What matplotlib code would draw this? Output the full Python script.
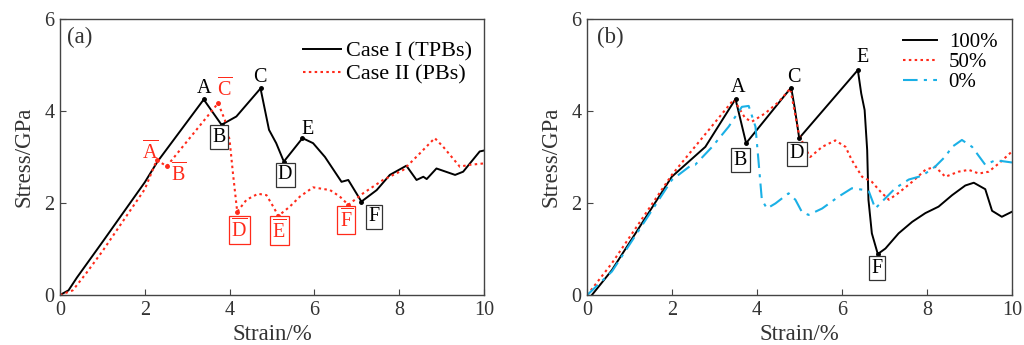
import matplotlib
matplotlib.use("Agg")
import matplotlib.pyplot as plt

plt.rcParams['font.family'] = ['Liberation Serif', 'DejaVu Serif']
plt.rcParams['mathtext.fontset'] = 'custom'
plt.rcParams['mathtext.rm'] = 'Liberation Serif'
plt.rcParams['mathtext.it'] = 'Liberation Serif'

# ---- Panel (a) data ----
case1_x = [0, 0.2, 0.4, 1.0, 2.0, 2.3, 3.39, 3.81, 4.16, 4.73, 4.93, 5.1, 5.28, 5.72, 5.97, 6.25, 6.64, 6.80,
           7.11, 7.47, 7.78, 8.17, 8.41, 8.57, 8.65, 8.88, 9.32, 9.51, 9.9, 10.0]
case1_y = [0, 0.1, 0.38, 1.15, 2.45, 2.9, 4.25, 3.70, 3.88, 4.49, 3.59, 3.3, 2.90, 3.41, 3.30, 3.0, 2.46, 2.5,
           2.03, 2.28, 2.61, 2.81, 2.5, 2.57, 2.52, 2.75, 2.61, 2.68, 3.12, 3.14]
case2_x = [0, 0.3, 0.6, 1.0, 2.0, 2.28, 2.52, 3.73, 3.89, 4.0, 4.08, 4.18, 4.4, 4.67, 4.87, 5.03, 5.15, 5.42,
           5.66, 5.97, 6.37, 6.6, 6.8, 7.15, 7.62, 8.1, 8.49, 8.84, 9.04, 9.43, 9.67, 10.0]
case2_y = [0, 0.1, 0.45, 0.95, 2.3, 2.93, 2.80, 4.17, 3.80, 3.37, 2.64, 1.81, 2.07, 2.2, 2.17, 1.92, 1.72, 1.92,
           2.14, 2.34, 2.28, 2.14, 1.96, 2.21, 2.5, 2.72, 3.08, 3.41, 3.22, 2.79, 2.83, 2.86]
case1_pts = {'A': (3.39, 4.25), 'B': (3.81, 3.70), 'C': (4.73, 4.49), 'D': (5.28, 2.90), 'E': (5.72, 3.41), 'F': (7.11, 2.03)}
case2_pts = {'A': (2.28, 2.93), 'B': (2.52, 2.80), 'C': (3.73, 4.17), 'D': (4.18, 1.81), 'E': (5.15, 1.72), 'F': (6.8, 1.96)}

# ---- Panel (b) data ----
p100_x = [0.11, 0.58, 1.99, 2.78, 3.49, 3.74, 4.80, 4.88, 4.99, 6.37, 6.45, 6.53, 6.59, 6.62, 6.70, 6.84, 7.02,
          7.33, 7.65, 7.96, 8.27, 8.59, 8.9, 9.1, 9.37, 9.53, 9.76, 10.0]
p100_y = [0, 0.54, 2.57, 3.22, 4.26, 3.30, 4.51, 4.09, 3.41, 4.89, 4.38, 4.02, 3.15, 2.07, 1.34, 0.89, 1.01,
          1.34, 1.59, 1.78, 1.92, 2.17, 2.38, 2.44, 2.3, 1.83, 1.70, 1.81]
p50_x = [0, 0.58, 1.99, 3.45, 3.72, 3.88, 4.19, 4.51, 4.78, 4.86, 4.98, 5.13, 5.25, 5.53, 5.84, 6.08, 6.23, 6.47,
         6.7, 6.9, 7.1, 7.33, 7.65, 7.96, 8.19, 8.43, 8.74, 8.98, 9.22, 9.45, 9.69, 10.0]
p50_y = [0, 0.69, 2.61, 4.25, 3.84, 3.77, 3.95, 4.2, 4.49, 4.09, 3.51, 3.19, 3.0, 3.22, 3.36, 3.22, 2.93, 2.57,
         2.46, 2.25, 2.07, 2.22, 2.46, 2.72, 2.79, 2.57, 2.68, 2.72, 2.64, 2.68, 2.86, 3.12]
p0_x = [0, 0.58, 1.99, 2.46, 2.54, 2.94, 3.33, 3.64, 3.80, 3.96, 4.03, 4.11, 4.23, 4.43, 4.74, 4.9, 5.05, 5.21,
        5.53, 5.92, 6.23, 6.55, 6.63, 6.78, 6.94, 7.25, 7.57, 7.88, 8.19, 8.43, 8.59, 8.82, 9.06, 9.37, 9.61, 10.0]
p0_y = [0, 0.51, 2.5, 2.83, 2.83, 3.22, 3.66, 4.09, 4.11, 3.66, 2.93, 2.07, 1.88, 1.99, 2.21, 2.07, 1.81, 1.74,
        1.88, 2.14, 2.32, 2.28, 2.25, 1.88, 2.03, 2.32, 2.51, 2.59, 2.79, 3.01, 3.22, 3.37, 3.22, 2.83, 2.93, 2.88]
p100_pts = {'A': (3.49, 4.26), 'B': (3.74, 3.30), 'C': (4.80, 4.51), 'D': (4.99, 3.41), 'E': (6.37, 4.89), 'F': (6.84, 0.89)}

x_ticks = [0, 2, 4, 6, 8, 10]
y_ticks = [0, 2, 4, 6]

RED = '#ff2a1a'
CYAN = '#1ab0e6'
TICK_FS = 14.5
LAB_FS = 16.5
LET_FS = 14.5
TXT = '#333333'

fig = plt.figure(figsize=(10.24, 3.45), dpi=100)
ax1 = fig.add_axes([0.0586, 0.145, 0.414, 0.80])
ax2 = fig.add_axes([0.5735, 0.145, 0.4148, 0.80])

for ax in (ax1, ax2):
    ax.set_xlim(0, 10)
    ax.set_ylim(0, 6)
    ax.set_xticks(x_ticks)
    ax.set_yticks(y_ticks)
    ax.tick_params(direction='in', labelsize=TICK_FS, length=4, width=0.8, pad=4, colors='#444444', labelcolor=TXT)
    for s in ax.spines.values():
        s.set_color('#444444')
        s.set_linewidth(1.0)
    ax.set_xlabel('Strain/%', fontsize=LAB_FS, labelpad=3, color=TXT)
    ax.set_ylabel('Stress/GPa', fontsize=LAB_FS, labelpad=7, color=TXT)

dot_ls = (0, (1.2, 1.6))

# panel (a)
ax1.plot(case1_x, case1_y, color='black', lw=1.4, label='Case I (TPBs)')
ax1.plot(case2_x, case2_y, color=RED, lw=1.5, ls=dot_ls, label='Case II (PBs)')
for k, (x, y) in case1_pts.items():
    ax1.plot(x, y, 'o', color='black', ms=2.5)
for k, (x, y) in case2_pts.items():
    ax1.plot(x, y, 'o', color=RED, ms=2.5)

box_k = dict(boxstyle='square,pad=0.12', fc='white', ec='#333333', lw=0.9)
box_r = dict(boxstyle='square,pad=0.12', fc='white', ec=RED, lw=0.9)
ax1.text(3.39, 4.48, 'A', ha='center', va='center', fontsize=LET_FS)
ax1.text(4.72, 4.72, 'C', ha='center', va='center', fontsize=LET_FS)
ax1.text(5.83, 3.60, 'E', ha='center', va='center', fontsize=LET_FS)
ax1.text(3.75, 3.43, 'B', ha='center', va='center', fontsize=LET_FS, bbox=box_k)
ax1.text(5.31, 2.61, 'D', ha='center', va='center', fontsize=LET_FS, bbox=box_k)
ax1.text(7.41, 1.70, 'F', ha='center', va='center', fontsize=LET_FS, bbox=box_k)
ax1.text(2.12, 3.10, r'$\overline{\mathrm{A}}$', ha='center', va='center', fontsize=LET_FS, color=RED)
ax1.text(2.79, 2.63, r'$\overline{\mathrm{B}}$', ha='center', va='center', fontsize=LET_FS, color=RED)
ax1.text(3.89, 4.48, r'$\overline{\mathrm{C}}$', ha='center', va='center', fontsize=LET_FS, color=RED)
ax1.text(4.23, 1.41, r'$\overline{\mathrm{D}}$', ha='center', va='center', fontsize=LET_FS, color=RED, bbox=box_r)
ax1.text(5.17, 1.40, r'$\overline{\mathrm{E}}$', ha='center', va='center', fontsize=LET_FS, color=RED, bbox=box_r)
ax1.text(6.75, 1.63, r'$\overline{\mathrm{F}}$', ha='center', va='center', fontsize=LET_FS, color=RED, bbox=box_r)
ax1.text(0.17, 5.6, '(a)', fontsize=LAB_FS, ha='left', va='center', color=TXT)
ax1.legend(loc='upper left', frameon=False, fontsize=16, handlelength=1.7, handletextpad=0.25,
           borderpad=0, borderaxespad=0, labelspacing=0.1, bbox_to_anchor=(0.573, 0.92))

# panel (b)
ax2.plot(p100_x, p100_y, color='black', lw=1.4, label='100%')
ax2.plot(p50_x, p50_y, color=RED, lw=1.5, ls=dot_ls, label='50%')
ax2.plot(p0_x, p0_y, color=CYAN, lw=1.5, ls=(0, (7, 3, 1.5, 3)), label='0%')
for k, (x, y) in p100_pts.items():
    ax2.plot(x, y, 'o', color='black', ms=2.5)
ax2.text(3.55, 4.50, 'A', ha='center', va='center', fontsize=LET_FS)
ax2.text(4.86, 4.73, 'C', ha='center', va='center', fontsize=LET_FS)
ax2.text(6.47, 5.17, 'E', ha='center', va='center', fontsize=LET_FS)
ax2.text(3.61, 2.93, 'B', ha='center', va='center', fontsize=LET_FS, bbox=box_k)
ax2.text(4.94, 3.07, 'D', ha='center', va='center', fontsize=LET_FS, bbox=box_k)
ax2.text(6.81, 0.58, 'F', ha='center', va='center', fontsize=LET_FS, bbox=box_k)
ax2.text(0.23, 5.6, '(b)', fontsize=LAB_FS, ha='left', va='center', color=TXT)
ax2.legend(loc='upper left', frameon=False, fontsize=15, handlelength=1.65, handletextpad=0.55,
           borderpad=0, borderaxespad=0, labelspacing=0.02, bbox_to_anchor=(0.743, 0.95))

fig.savefig('out.png', dpi=100, facecolor='white')
